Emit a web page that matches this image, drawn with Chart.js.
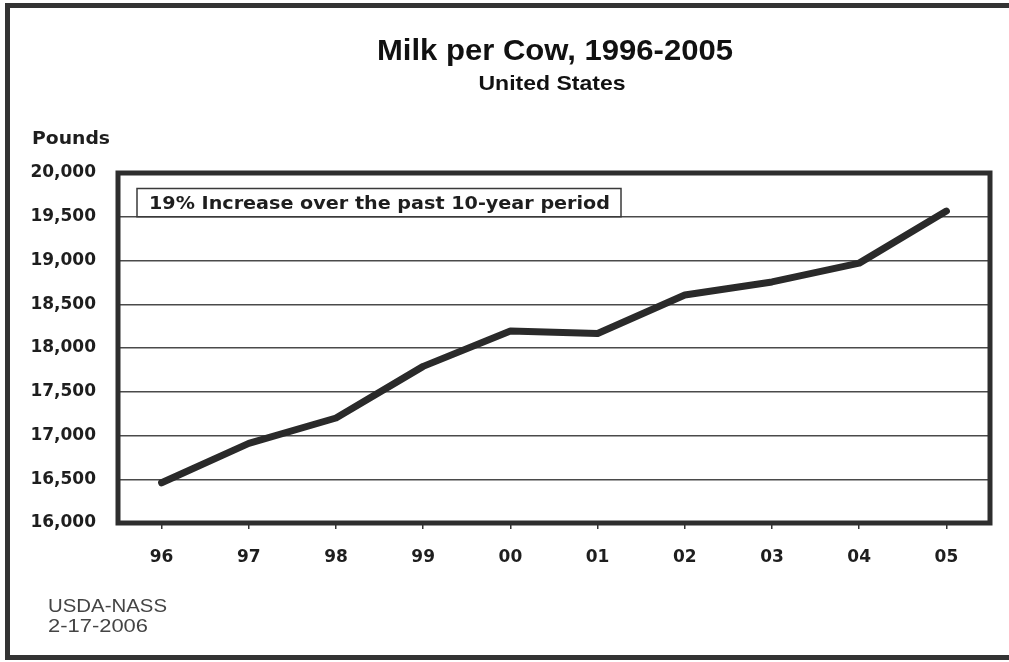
<!DOCTYPE html>
<html>
<head>
<meta charset="utf-8">
<title>Milk per Cow, 1996-2005</title>
<script src="https://cdn.jsdelivr.net/npm/chart.js@4/dist/chart.umd.min.js"></script>
<style>
  html, body { margin: 0; padding: 0; background: #ffffff; }
  #wrap { width: 1009px; height: 662px; }
  canvas { display: block; }
</style>
</head>
<body>
<div id="wrap"><canvas id="milk" width="1009" height="662"></canvas></div>
<script>
// Marketing years (two-digit labels) and average milk output per cow, pounds
const years = ['96', '97', '98', '99', '00', '01', '02', '03', '04', '05'];
const milkPerCow = [16460, 16910, 17200, 17790, 18195, 18165, 18605, 18755, 18970, 19565];

// Value axis range and step
const yMin = 16000;
const yMax = 20000;
const yStep = 500;

// Text shown on the page
const titleText = 'Milk per Cow, 1996-2005';
const subtitleText = 'United States';
const unitText = 'Pounds';
const noteText = '19% Increase over the past 10-year period';
const sourceLines = ['USDA-NASS', '2-17-2006'];

const INK = '#2a2a2a';

// Draws a string stretched horizontally so that it spans the given width
function drawFitted(ctx, text, x, y, width, align) {
  const w = ctx.measureText(text).width;
  const sx = width / w;
  ctx.save();
  let left = x;
  if (align === 'center') left = x - width / 2;
  else if (align === 'right') left = x - width;
  ctx.translate(left, y);
  ctx.scale(sx, 1);
  ctx.textAlign = 'left';
  ctx.fillText(text, 0, 0);
  ctx.restore();
}

const decorations = {
  id: 'decorations',
  beforeDraw(chart) {
    const ctx = chart.ctx;
    ctx.save();
    ctx.fillStyle = '#ffffff';
    ctx.fillRect(0, 0, chart.width, chart.height);
    // outer frame around the whole figure
    ctx.strokeStyle = '#333333';
    ctx.lineWidth = 5;
    ctx.strokeRect(7.5, 5.5, chart.width + 20, 652);
    ctx.restore();
  },
  beforeDatasetsDraw(chart) {
    const ctx = chart.ctx;
    const a = chart.chartArea;
    ctx.save();
    // heavy frame around the plot area
    ctx.strokeStyle = '#2e2e2e';
    ctx.lineWidth = 5;
    ctx.strokeRect(a.left, a.top, a.right - a.left, a.bottom - a.top);
    // boxed note in the upper left of the plot
    const y = chart.scales.y;
    const boxBottom = y.getPixelForValue(19500);
    ctx.fillStyle = '#ffffff';
    ctx.fillRect(137, 188.5, 484, boxBottom - 188.5);
    ctx.strokeStyle = '#3a3a3a';
    ctx.lineWidth = 1.5;
    ctx.strokeRect(137, 188.5, 484, boxBottom - 188.5);
    ctx.fillStyle = '#1e1e1e';
    ctx.font = 'bold 18px "DejaVu Sans"';
    ctx.textBaseline = 'alphabetic';
    drawFitted(ctx, noteText, 149, 208.5, 461, 'left');
    ctx.restore();
  },
  afterDraw(chart) {
    const ctx = chart.ctx;
    ctx.save();
    ctx.textBaseline = 'alphabetic';
    ctx.fillStyle = '#111111';
    ctx.font = 'bold 30px "Liberation Sans"';
    drawFitted(ctx, titleText, 555, 60, 356, 'center');
    ctx.font = 'bold 21px "Liberation Sans"';
    drawFitted(ctx, subtitleText, 552, 90, 147, 'center');
    ctx.fillStyle = '#1e1e1e';
    ctx.font = 'bold 18px "DejaVu Sans"';
    drawFitted(ctx, unitText, 32, 143.5, 78, 'left');
    ctx.fillStyle = '#444444';
    ctx.font = '19px "Liberation Sans"';
    drawFitted(ctx, sourceLines[0], 48, 612, 119, 'left');
    drawFitted(ctx, sourceLines[1], 48, 632, 100, 'left');
    ctx.restore();
  }
};

new Chart(document.getElementById('milk'), {
  type: 'line',
  data: {
    labels: years,
    datasets: [{
      label: 'Milk per cow',
      data: milkPerCow,
      borderColor: INK,
      borderWidth: 7,
      borderCapStyle: 'round',
      borderJoinStyle: 'round',
      pointRadius: 0,
      pointHoverRadius: 0,
      tension: 0,
      fill: false
    }]
  },
  options: {
    responsive: false,
    animation: false,
    devicePixelRatio: 1,
    layout: { padding: { top: 173, right: 19, left: 0, bottom: 0 } },
    plugins: {
      legend: { display: false },
      tooltip: { enabled: false },
      title: { display: false }
    },
    scales: {
      x: {
        type: 'category',
        offset: true,
        afterFit(scale) { scale.height = 139; },
        border: { display: false },
        grid: {
          offset: false,
          drawOnChartArea: false,
          drawTicks: true,
          tickLength: 6,
          color: '#333333',
          lineWidth: 1.5
        },
        ticks: {
          color: '#1e1e1e',
          padding: 18,
          maxRotation: 0,
          font: { family: '"DejaVu Sans"', weight: 'bold', size: 17 }
        }
      },
      y: {
        min: yMin,
        max: yMax,
        afterFit(scale) { scale.width = 118; },
        border: { display: false },
        grid: {
          drawTicks: false,
          color: '#4a4a4a',
          lineWidth: 1.5
        },
        ticks: {
          stepSize: yStep,
          color: '#1e1e1e',
          padding: 22,
          font: { family: '"DejaVu Sans"', weight: 'bold', size: 17 },
          callback: (v) => Number(v).toLocaleString('en-US')
        }
      }
    }
  },
  plugins: [decorations]
});
</script>
</body>
</html>
